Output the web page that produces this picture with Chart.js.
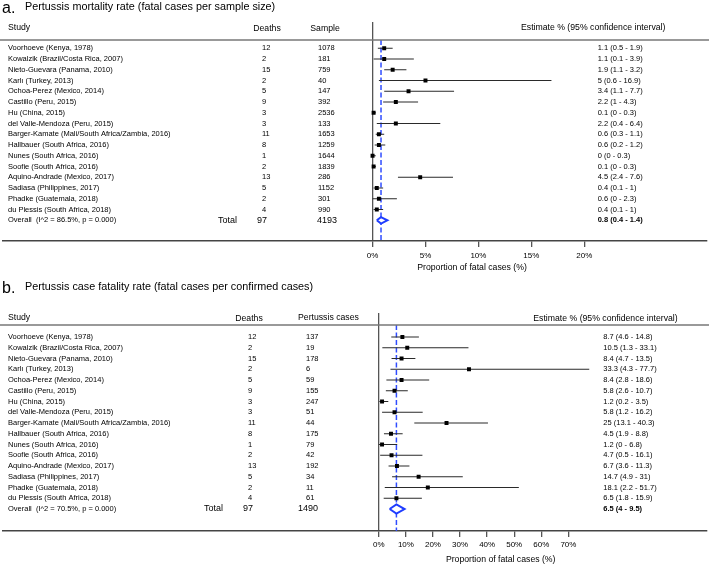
<!DOCTYPE html>
<html>
<head>
<meta charset="utf-8">
<script src="https://cdn.jsdelivr.net/npm/chart.js@4.4.1/dist/chart.umd.min.js"></script>
<style>
html, body { margin: 0; padding: 0; background: #fff; overflow: hidden; }
canvas { position: absolute; left: 0; }
#panelA { top: 0; }
#panelB { top: 275px; }
</style>
</head>
<body>
<canvas id="panelA" width="709" height="275"></canvas>
<canvas id="panelB" width="709" height="289"></canvas>
<script>
// Study list (same order in both panels)
const studies = [
    'Voorhoeve (Kenya, 1978)', 'Kowalzik (Brazil/Costa Rica, 2007)', 'Nieto-Guevara (Panama, 2010)',
    'Karlı (Turkey, 2013)', 'Ochoa-Perez (Mexico, 2014)', 'Castillo (Peru, 2015)', 'Hu (China, 2015)',
    'del Valle-Mendoza (Peru, 2015)', 'Barger-Kamate (Mali/South Africa/Zambia, 2016)',
    'Hallbauer (South Africa, 2016)', 'Nunes (South Africa, 2016)', 'Soofie (South Africa, 2016)',
    'Aquino-Andrade (Mexico, 2017)', 'Sadiasa (Philippines, 2017)', 'Phadke (Guatemala, 2018)',
    'du Plessis (South Africa, 2018)'
];
const deaths = [12, 2, 15, 2, 5, 9, 3, 3, 11, 8, 1, 2, 13, 5, 2, 4];

// Panel a: mortality rate
const sampleA = [1078, 181, 759, 40, 147, 392, 2536, 133, 1653, 1259, 1644, 1839, 286, 1152, 301, 990];
const estA = [1.1, 1.1, 1.9, 5, 3.4, 2.2, 0.1, 2.2, 0.6, 0.6, 0, 0.1, 4.5, 0.4, 0.6, 0.4];
const loA = [0.5, 0.1, 1.1, 0.6, 1.1, 1, 0, 0.4, 0.3, 0.2, 0, 0, 2.4, 0.1, 0, 0.1];
const hiA = [1.9, 3.9, 3.2, 16.9, 7.7, 4.3, 0.3, 6.4, 1.1, 1.2, 0.3, 0.3, 7.6, 1, 2.3, 1];
const overallA = [0.8, 0.4, 1.4];
const totalsA = [97, 4193];
const ticksA = [0, 5, 10, 15, 20];

// Panel b: case fatality rate
const casesB = [137, 19, 178, 6, 59, 155, 247, 51, 44, 175, 79, 42, 192, 34, 11, 61];
const estB = [8.7, 10.5, 8.4, 33.3, 8.4, 5.8, 1.2, 5.8, 25, 4.5, 1.2, 4.7, 6.7, 14.7, 18.1, 6.5];
const loB = [4.6, 1.3, 4.7, 4.3, 2.8, 2.6, 0.2, 1.2, 13.1, 1.9, 0, 0.5, 3.6, 4.9, 2.2, 1.8];
const hiB = [14.8, 33.1, 13.5, 77.7, 18.6, 10.7, 3.5, 16.2, 40.3, 8.8, 6.8, 16.1, 11.3, 31, 51.7, 15.9];
const overallB = [6.5, 4, 9.5];
const totalsB = [97, 1490];
const ticksB = [0, 10, 20, 30, 40, 50, 60, 70];

const FONT = '"Liberation Sans", Arial, Helvetica, sans-serif';

const txt = (ctx, s, x, y, size, opts = {}) => {
    ctx.font = `${opts.bold ? 'bold ' : ''}${size}px ${FONT}`;
    ctx.textAlign = opts.align || 'left';
    ctx.textBaseline = 'middle';
    ctx.fillStyle = opts.color || '#000';
    ctx.fillText(s, x, y);
};

const ciText = (e, l, h) => `${e} (${l} - ${h})`;

const buildPanel = (id, p) => {
    const n = p.est.length;
    const overallRow = n + 1;

    const tablePlugin = {
        id: 'table_' + id,
        afterDraw(chart) {
            const ctx = chart.ctx;
            const ys = chart.scales.y;
            const xs = chart.scales.x;
            ctx.save();
            // title
            txt(ctx, p.letter, 2, p.titleY + 1.5, 16);
            txt(ctx, p.title, 25, p.titleY, 10.8);
            // headers
            p.headers.forEach(h => txt(ctx, h.text, h.x, h.y, 8.7, { align: h.align }));
            // header rule
            const hy = ys.getPixelForValue(p.headRow);
            ctx.strokeStyle = '#777';
            ctx.lineWidth = 1.5;
            ctx.beginPath();
            ctx.moveTo(0, hy);
            ctx.lineTo(chart.width, hy);
            ctx.stroke();
            // rows
            for (let i = 0; i < n; i++) {
                const y = ys.getPixelForValue(i + 1);
                txt(ctx, studies[i], 8, y, 7.5);
                txt(ctx, String(deaths[i]), p.colDeaths, y, 7.5);
                txt(ctx, String(p.counts[i]), p.colCounts, y, 7.5);
                txt(ctx, ciText(p.est[i], p.lo[i], p.hi[i]), p.colEst, y, 7.5);
            }
            const oy = ys.getPixelForValue(overallRow);
            txt(ctx, p.overallLabel, 8, oy, 7.5);
            txt(ctx, 'Total', p.colTotal, oy, 9);
            txt(ctx, String(p.totals[0]), p.colTotDeaths, oy, 9);
            txt(ctx, String(p.totals[1]), p.colTotCounts, oy, 9);
            txt(ctx, ciText(p.overall[0], p.overall[1], p.overall[2]), p.colEst, oy, 7.5, { bold: true });
            // axis title
            txt(ctx, 'Proportion of fatal cases (%)', xs.getPixelForValue(p.axisTitleAt), p.axisTitleY, 8.7, { align: 'center' });
            ctx.restore();
        }
    };

    const rows = p.est.map((e, i) => ({ x: e, y: i + 1 }));
    const ciLines = p.lo.flatMap((l, i) => [{ x: l, y: i + 1 }, { x: p.hi[i], y: i + 1 }, { x: null, y: null }]);
    const [oe, ol, oh] = p.overall;
    const diamond = [
        { x: ol, y: overallRow }, { x: oe, y: overallRow - p.diamondH },
        { x: oh, y: overallRow }, { x: oe, y: overallRow + p.diamondH }, { x: ol, y: overallRow }
    ];
    const pooledLine = [{ x: oe, y: p.headRow }, { x: oe, y: p.yMax }];

    return new Chart(document.getElementById(id), {
        type: 'scatter',
        data: {
            datasets: [
                { data: rows, pointStyle: 'rect', pointRadius: 2.8, pointHoverRadius: 2.8, backgroundColor: '#000', borderWidth: 0 },
                { type: 'line', data: diamond, borderColor: '#1f3dff', borderWidth: 2, backgroundColor: '#fff', fill: 'shape', pointRadius: 0, tension: 0 },
                { type: 'line', data: ciLines, borderColor: '#2a2a2a', borderWidth: 1.1, pointRadius: 0, spanGaps: false, fill: false },
                { type: 'line', data: pooledLine, borderColor: '#2f4cff', borderWidth: 1.5, borderDash: [5, 2.5], pointRadius: 0, fill: false }
            ]
        },
        options: {
            responsive: false,
            animation: false,
            layout: { padding: { top: p.padTop, left: 0, right: 0, bottom: 0 } },
            plugins: { legend: { display: false }, tooltip: { enabled: false } },
            scales: {
                x: {
                    type: 'linear',
                    min: p.xMin,
                    max: p.xMax,
                    afterBuildTicks: s => { s.ticks = p.ticks.map(v => ({ value: v })); },
                    afterFit: s => { s.height = p.axisH; },
                    border: { display: true, color: '#444', width: 1.5 },
                    grid: {
                        color: c => (c.tick && c.tick.value === 0 ? '#555' : 'rgba(0,0,0,0)'),
                        tickColor: '#555',
                        lineWidth: 1.3,
                        drawTicks: true,
                        tickLength: 6
                    },
                    ticks: {
                        padding: p.tickPad,
                        maxRotation: 0,
                        autoSkip: false,
                        color: '#000',
                        font: { family: FONT, size: 8 },
                        callback: v => v + '%'
                    }
                },
                y: { type: 'linear', reverse: true, min: p.yMin, max: p.yMax, display: false }
            }
        },
        plugins: [tablePlugin]
    });
};

buildPanel('panelA', {
    letter: 'a.', title: 'Pertussis mortality rate (fatal cases per sample size)', titleY: 7.5,
    headers: [
        { text: 'Study', x: 8, y: 28, align: 'left' },
        { text: 'Deaths', x: 267, y: 29, align: 'center' },
        { text: 'Sample', x: 325, y: 29, align: 'center' },
        { text: 'Estimate % (95% confidence interval)', x: 521, y: 28, align: 'left' }
    ],
    counts: sampleA, est: estA, lo: loA, hi: hiA, overall: overallA, totals: totalsA, ticks: ticksA,
    overallLabel: 'Overall  (I^2 = 86.5%, p = 0.000)',
    colDeaths: 262, colCounts: 318, colEst: 597.7,
    colTotal: 218, colTotDeaths: 257, colTotCounts: 317,
    padTop: 22, axisH: 34, tickPad: 4,
    xMin: -34.93, xMax: 31.52, yMin: -1.447, yMax: 18.925, headRow: 0.228,
    diamondH: 0.3, axisTitleAt: 9.4, axisTitleY: 267.3
});

buildPanel('panelB', {
    letter: 'b.', title: 'Pertussis case fatality rate (fatal cases per confirmed cases)', titleY: 11.7,
    headers: [
        { text: 'Study', x: 8, y: 42.7, align: 'left' },
        { text: 'Deaths', x: 249, y: 44, align: 'center' },
        { text: 'Pertussis cases', x: 298, y: 42.7, align: 'left' },
        { text: 'Estimate % (95% confidence interval)', x: 533.3, y: 43.3, align: 'left' }
    ],
    counts: casesB, est: estB, lo: loB, hi: hiB, overall: overallB, totals: totalsB, ticks: ticksB,
    overallLabel: 'Overall  (I^2 = 70.5%, p = 0.000)',
    colDeaths: 248, colCounts: 306, colEst: 603.3,
    colTotal: 204, colTotDeaths: 243, colTotCounts: 298,
    padTop: 38, axisH: 33, tickPad: 3,
    xMin: -138.83, xMax: 120.88, yMin: -1.233, yMax: 19.046, headRow: -0.116,
    diamondH: 0.42, axisTitleAt: 45, axisTitleY: 284.3
});
</script>
</body>
</html>
